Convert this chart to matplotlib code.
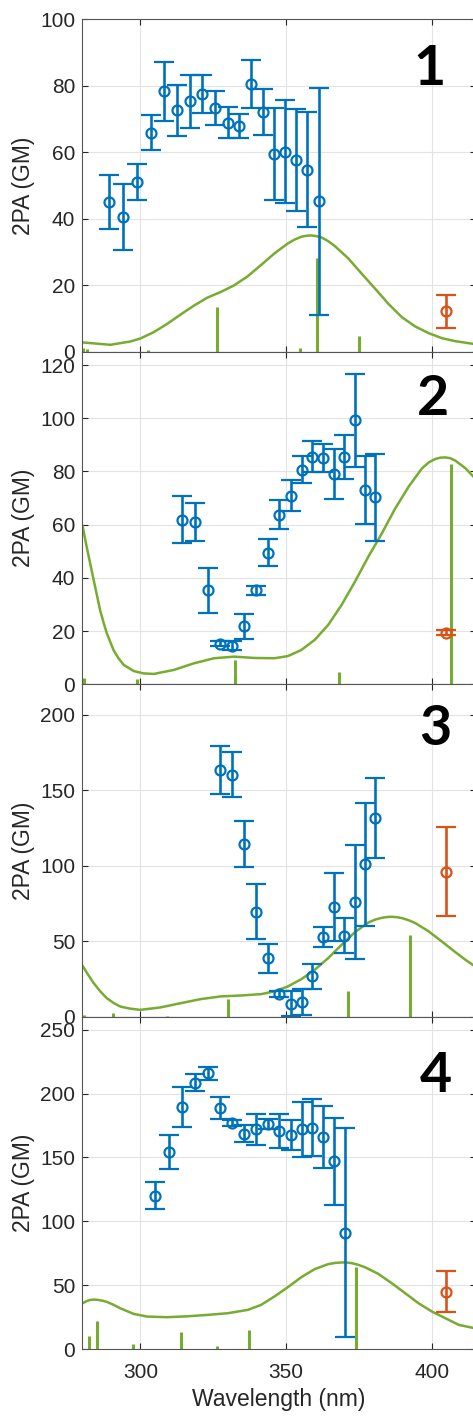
import matplotlib
matplotlib.use("Agg")
import matplotlib.pyplot as plt

plt.rcParams['font.family'] = ['Liberation Sans', 'DejaVu Sans']

BLUE = '#0072BD'
ORANGE = '#D95319'
GREEN = '#77AC30'
DARK = '#262626'

# ---------------- panel 1 ----------------
wl1 = [289.4, 294.2, 299.0, 303.8, 308.2, 312.7, 317.0, 321.3, 325.7,
       330.0, 333.9, 338.0, 342.0, 345.7, 349.7, 353.4, 357.2, 361.1]
tpa1 = [45.1, 40.6, 51.2, 65.9, 78.3, 72.6, 75.3, 77.5, 73.3,
        68.9, 67.8, 80.6, 72.1, 59.6, 60.2, 57.6, 54.8, 45.3]
err1 = [8.2, 9.9, 5.4, 5.3, 8.9, 7.7, 7.9, 5.8, 5.0,
        4.7, 3.6, 7.2, 6.8, 13.8, 15.5, 15.3, 17.2, 34.1]
ref_wl1, ref_tpa1, ref_err1 = [404.8], [12.2], [5.0]
calc_wl1 = [280.5, 289.7, 296.6, 300.0, 304.6, 309.2, 313.8, 318.4, 323.0,
            327.6, 332.2, 336.8, 341.4, 346.0, 350.6, 353.0, 355.2, 356.9,
            358.6, 360.3, 362.1, 364.4, 366.7, 371.3, 375.9, 380.5, 385.1,
            389.7, 394.3, 398.9, 403.4, 408.0, 414.8]
calc_tpa1 = [2.8, 2.1, 3.1, 4.0, 5.9, 8.4, 11.2, 13.9, 16.3,
             18.0, 20.0, 22.7, 26.1, 29.6, 32.6, 33.8, 34.6, 34.9,
             35.0, 34.8, 34.4, 33.3, 31.8, 28.1, 23.5, 19.0, 14.4,
             10.4, 7.6, 5.6, 4.1, 3.2, 2.3]
stick_wl1 = [280.5, 281.8, 302.6, 326.4, 354.6, 360.7, 374.9]
stick_tpa1 = [1.0, 0.8, 0.6, 13.6, 1.0, 28.3, 4.9]

# ---------------- panel 2 ----------------
wl2 = [314.2, 318.6, 323.1, 327.3, 331.6, 335.7, 339.7, 343.7, 347.7,
       351.6, 355.3, 359.0, 362.7, 366.3, 370.0, 373.6, 377.2, 380.5]
tpa2 = [61.9, 61.0, 35.3, 15.3, 14.5, 21.8, 35.3, 49.5, 63.7,
        70.9, 80.7, 85.6, 85.1, 79.1, 85.5, 99.2, 73.1, 70.3]
err2 = [8.9, 7.0, 8.4, 1.0, 1.7, 4.6, 1.8, 5.2, 5.5,
        5.9, 5.0, 5.9, 5.3, 9.3, 8.2, 17.6, 12.8, 16.4]
ref_wl2, ref_tpa2, ref_err2 = [404.8], [19.4], [1.0]
calc_wl2 = [280.2, 281.6, 282.8, 284.0, 285.1, 286.2, 287.4, 288.5, 290.8,
            292.5, 294.3, 297.7, 301.1, 304.6, 311.5, 318.4, 325.3, 332.2,
            339.1, 346.0, 350.6, 355.2, 359.8, 364.4, 369.0, 373.6, 378.2,
            382.8, 387.4, 392.0, 396.6, 399.0, 401.1, 402.9, 404.6, 406.3,
            408.0, 411.5, 414.8]
calc_tpa2 = [59.5, 51.7, 45.5, 39.2, 33.6, 27.9, 23.2, 19.2, 12.9,
             9.8, 7.3, 5.0, 4.1, 3.9, 5.4, 7.9, 9.8, 10.4,
             9.9, 9.8, 10.6, 12.9, 16.7, 22.3, 29.8, 38.6, 48.0,
             56.7, 66.1, 74.3, 81.2, 83.5, 84.7, 85.2, 85.3, 85.0,
             84.1, 81.2, 77.4]
stick_wl2 = [280.7, 298.9, 332.6, 350.0, 368.2, 406.4]
stick_tpa2 = [2.3, 1.9, 9.1, 0.3, 4.5, 82.8]

# ---------------- panel 3 ----------------
wl3 = [327.3, 331.6, 335.7, 339.7, 343.7, 347.7, 351.6, 355.3, 359.0,
       362.7, 366.3, 370.0, 373.6, 377.2, 380.5]
tpa3 = [163.4, 160.3, 114.4, 69.5, 38.6, 15.0, 8.8, 9.7, 26.9,
        52.9, 72.5, 53.6, 75.9, 101.0, 131.4]
err3 = [15.7, 14.8, 15.4, 18.2, 9.8, 1.8, 8.3, 8.8, 8.2,
        6.4, 22.5, 11.6, 37.7, 40.6, 26.3]
ref_wl3, ref_tpa3, ref_err3 = [404.8], [96.1], [29.7]
calc_wl3 = [280.2, 282.1, 284.0, 286.2, 288.5, 290.8, 293.1, 296.5, 300.0,
            306.9, 313.8, 320.7, 327.6, 334.5, 341.4, 346.0, 350.6, 355.2,
            359.8, 364.4, 369.0, 373.6, 378.2, 380.5, 382.8, 384.5, 386.2,
            388.0, 389.7, 392.0, 394.3, 398.9, 403.4, 408.0, 411.5, 414.8]
calc_tpa3 = [33.7, 27.8, 22.3, 17.0, 12.3, 9.2, 6.8, 5.4, 4.6,
             6.2, 9.0, 11.7, 13.5, 14.1, 15.0, 16.8, 20.1, 24.9,
             31.1, 38.8, 47.6, 56.0, 62.4, 64.3, 65.5, 66.0, 66.2,
             65.9, 65.3, 63.9, 62.0, 56.5, 49.8, 42.8, 37.7, 33.3]
stick_wl3 = [280.6, 290.5, 309.2, 330.0, 371.3, 392.5]
stick_tpa3 = [0.9, 2.5, 0.5, 12.0, 17.3, 53.8]

# ---------------- panel 4 ----------------
wl4 = [304.9, 309.7, 314.2, 318.6, 323.2, 327.4, 331.6, 335.7, 339.7,
       343.7, 347.7, 351.6, 355.3, 359.0, 362.7, 366.3, 370.1]
tpa4 = [120.0, 154.2, 189.2, 208.5, 215.8, 188.9, 177.2, 168.6, 172.2,
        176.1, 170.7, 167.8, 172.2, 173.3, 166.2, 146.9, 91.3]
err4 = [10.6, 13.6, 15.6, 6.6, 5.0, 8.6, 2.3, 6.8, 12.1,
        4.2, 13.5, 11.7, 21.5, 22.5, 24.2, 34.3, 81.6]
ref_wl4, ref_tpa4, ref_err4 = [404.8], [45.1], [15.8]
calc_wl4 = [280.2, 281.5, 282.8, 284.2, 285.6, 287.0, 288.5, 290.8, 293.1,
            297.7, 302.3, 309.2, 316.1, 323.0, 329.9, 336.8, 341.4, 346.0,
            350.6, 355.2, 359.8, 364.4, 366.7, 369.0, 370.7, 372.4, 374.7,
            377.0, 381.6, 386.2, 390.8, 395.4, 400.0, 404.6, 409.2, 414.8]
calc_tpa4 = [36.0, 37.6, 38.6, 38.9, 38.6, 38.0, 37.1, 34.8, 32.1,
             27.7, 25.6, 25.1, 25.8, 26.9, 28.2, 30.8, 34.7, 41.3,
             48.6, 56.4, 62.7, 66.6, 67.5, 67.9, 67.9, 67.4, 66.1,
             64.2, 59.0, 51.7, 43.9, 36.0, 29.5, 24.3, 19.1, 16.4]
stick_wl4 = [282.5, 285.1, 297.4, 314.0, 326.4, 337.1, 360.7, 374.0]
stick_tpa4 = [10.7, 22.5, 4.4, 13.8, 2.6, 15.1, 0.3, 64.2]

panels = [
    dict(wl=wl1, tpa=tpa1, err=err1, rwl=ref_wl1, rtpa=ref_tpa1, rerr=ref_err1,
         cwl=calc_wl1, ctpa=calc_tpa1, swl=stick_wl1, stpa=stick_tpa1,
         ylim=(0, 100), yticks=range(0, 101, 20), tag='1', tag_xy=(430, 85)),
    dict(wl=wl2, tpa=tpa2, err=err2, rwl=ref_wl2, rtpa=ref_tpa2, rerr=ref_err2,
         cwl=calc_wl2, ctpa=calc_tpa2, swl=stick_wl2, stpa=stick_tpa2,
         ylim=(0, 125), yticks=range(0, 121, 20), tag='2', tag_xy=(433, 415)),
    dict(wl=wl3, tpa=tpa3, err=err3, rwl=ref_wl3, rtpa=ref_tpa3, rerr=ref_err3,
         cwl=calc_wl3, ctpa=calc_tpa3, swl=stick_wl3, stpa=stick_tpa3,
         ylim=(0, 220), yticks=range(0, 201, 50), tag='3', tag_xy=(435, 745)),
    dict(wl=wl4, tpa=tpa4, err=err4, rwl=ref_wl4, rtpa=ref_tpa4, rerr=ref_err4,
         cwl=calc_wl4, ctpa=calc_tpa4, swl=stick_wl4, stpa=stick_tpa4,
         ylim=(0, 260), yticks=range(0, 251, 50), tag='4', tag_xy=(435.5, 1091.5)),
]

W, H = 473, 1416
fig = plt.figure(figsize=(W / 100, H / 100), dpi=100)

left_px, width_px = 82.0, 393.7
panel_h = 332.5
bottoms_px = [351.8, 684.3, 1016.8, 1349.3]

for i, p in enumerate(panels):
    b = bottoms_px[i]
    ax = fig.add_axes([left_px / W, 1 - b / H, width_px / W, panel_h / H])
    ax.set_xlim(280, 415)
    ax.set_ylim(*p['ylim'])
    ax.set_yticks(list(p['yticks']))
    ax.set_xticks([300, 350, 400])
    ax.grid(True, color='#e3e3e3', linewidth=0.8, zorder=0)
    ax.set_axisbelow(True)

    ax.plot(p['cwl'], p['ctpa'], color=GREEN, lw=1.8, zorder=2,
            solid_joinstyle='round')
    ax.vlines(p['swl'], 0, p['stpa'], color=GREEN, lw=2.2, zorder=2)

    ax.errorbar(p['wl'], p['tpa'], yerr=p['err'], fmt='o', color=BLUE,
                mfc='none', mec=BLUE, ms=7.2, mew=1.6, elinewidth=1.9,
                capsize=7, capthick=1.9, zorder=3)
    ax.errorbar(p['rwl'], p['rtpa'], yerr=p['rerr'], fmt='o', color=ORANGE,
                mfc='none', mec=ORANGE, ms=7.2, mew=1.6, elinewidth=1.9,
                capsize=7, capthick=1.9, zorder=3)

    ax.tick_params(direction='in', length=4, width=0.8, colors=DARK,
                   labelsize=15, top=True, right=True)
    ax.tick_params(axis='y', pad=5)
    ax.tick_params(axis='x', pad=10)
    for s in ax.spines.values():
        s.set_color('#555555')
        s.set_linewidth(0.8)
    if i < 3:
        ax.tick_params(axis='x', labelbottom=False)
    else:
        ax.set_xlabel('Wavelength (nm)', fontsize=16.5, color=DARK, labelpad=4)

    fig.text(23.5 / W, 1 - (b - panel_h / 2) / H, '2PA (GM)', rotation=90,
             ha='center', va='center', fontsize=16.5, color=DARK)

    tx, ty = p['tag_xy']
    fig.text(tx / W, 1 - ty / H, p['tag'], ha='center', va='baseline',
             fontsize=40, fontweight='bold', family=['Lato', 'DejaVu Sans'],
             color='black')

fig.savefig('out.png', dpi=100)
